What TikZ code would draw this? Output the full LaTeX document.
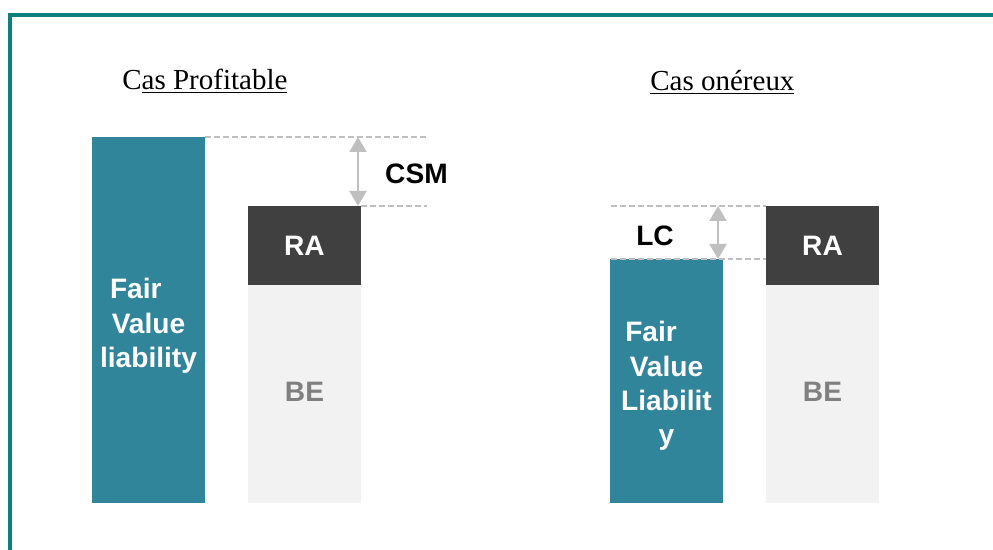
\documentclass[tikz,border=0pt]{standalone}
\usepackage{fontspec}
\setmainfont{Liberation Serif}
\setsansfont{Liberation Sans}
\usetikzlibrary{arrows.meta}

\definecolor{fvteal}{RGB}{49,133,155}
\definecolor{frameteal}{RGB}{12,128,124}
\definecolor{radark}{RGB}{64,64,64}
\definecolor{belight}{RGB}{242,242,242}
\definecolor{begray}{RGB}{128,128,128}
\definecolor{guidegray}{RGB}{191,191,191}

\begin{document}
\begin{tikzpicture}[
    lbl/.style={font=\sffamily\bfseries\fontsize{16}{19.5}\selectfont, align=center},
    titre/.style={font=\fontsize{16.5}{20}\selectfont, anchor=base west, inner sep=0pt},
    guide/.style={draw=guidegray, line width=0.8pt, dash pattern=on 3.4pt off 1.7pt},
    ecart/.style={draw=guidegray, line width=1.1pt,
      {Triangle[width=0.34cm,length=0.3cm]}-{Triangle[width=0.34cm,length=0.3cm]}}
  ]
  \useasboundingbox (0,0) rectangle (19.86,11);
  % cadre
  \draw[frameteal, line width=2.2pt] (0.2,0) -- (0.2,10.7) -- (19.86,10.7);

  % cas profitable
  \node[titre] (titreP) at (2.44,9.2) {C\underline{as Profitable}};
  \draw[fill=fvteal, draw=none] (1.84,0.94) rectangle (4.10,8.26)
    node[midway, lbl, white, yshift=-0.12cm] (fvP) {Fair\hspace*{0.9em}\\Value\\liability};
  \draw[fill=radark, draw=none] (4.96,5.30) rectangle (7.22,6.88)
    node[midway, lbl, white] (raP) {RA};
  \draw[fill=belight, draw=none] (4.96,0.94) rectangle (7.22,5.30)
    node[midway, lbl, begray, yshift=0.05cm] (beP) {BE};
  \coordinate (fvPhaut) at (4.10,8.26);
  \coordinate (raPhaut) at (7.22,6.88);
  \coordinate (guidePa) at (8.54,8.26);
  \coordinate (guidePb) at (8.54,6.88);
  \coordinate (csmHaut) at (7.16,8.26);
  \coordinate (csmBas) at (7.16,6.88);
  \draw[guide] (fvPhaut) -- (guidePa);
  \draw[guide] (raPhaut) -- (guidePb);
  \draw[ecart] (csmHaut) -- (csmBas);
  \node[lbl, anchor=west] (csm) at (7.58,7.52) {CSM};

  % cas onereux
  \node[titre] (titreO) at (13.0,9.18) {\underline{Cas onéreux}};
  \draw[fill=fvteal, draw=none] (12.20,0.94) rectangle (14.46,5.82)
    node[midway, lbl, white, yshift=-0.1cm] (fvO) {Fair\hspace*{1.1em}\\Value\\Liabilit\\y};
  \draw[fill=radark, draw=none] (15.32,5.30) rectangle (17.58,6.88)
    node[midway, lbl, white] (raO) {RA};
  \draw[fill=belight, draw=none] (15.32,0.94) rectangle (17.58,5.30)
    node[midway, lbl, begray, yshift=0.05cm] (beO) {BE};
  \coordinate (guideOa) at (12.22,6.88);
  \coordinate (guideOb) at (12.22,5.82);
  \coordinate (raOhaut) at (15.32,6.88);
  \coordinate (fvOhaut) at (15.32,5.82);
  \coordinate (lcHaut) at (14.36,6.88);
  \coordinate (lcBas) at (14.36,5.82);
  \draw[guide] (guideOa) -- (raOhaut);
  \draw[guide] (guideOb) -- (fvOhaut);
  \draw[ecart] (lcHaut) -- (lcBas);
  \node[lbl] (lc) at (13.10,6.28) {LC};
\end{tikzpicture}
\end{document}
